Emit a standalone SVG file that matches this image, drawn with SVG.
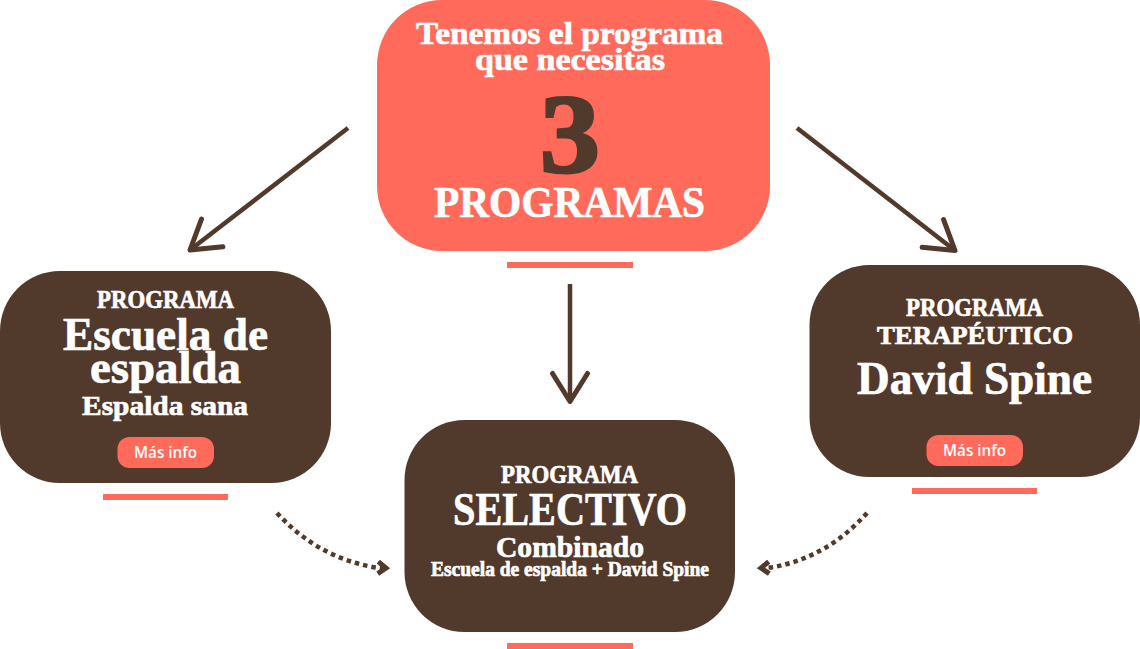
<svg xmlns="http://www.w3.org/2000/svg" width="1140" height="649" viewBox="0 0 1140 649">
<style>
.t{font-family:"Liberation Serif","Times New Roman",serif;font-weight:700;fill:#fff;stroke:#fff;stroke-width:.7px;text-anchor:middle}
.n{fill:#51392c;stroke:#51392c;stroke-width:3px}
.b{font-family:"Open Sans","Noto Sans",sans-serif;font-weight:600;font-size:15.500px;fill:#fff;text-anchor:middle}
.dk{fill:#51392c}.co{fill:#ff6a5b}
.ln{fill:none;stroke:#51392c;stroke-width:4.500}
.dot{fill:none;stroke:#51392c;stroke-width:4.500;stroke-dasharray:4.500 4}
</style>
<defs>
<marker id="ah" markerUnits="userSpaceOnUse" markerWidth="44" markerHeight="48" refX="36" refY="24" orient="auto" viewBox="0 0 44 48"><path d="M8,6.500 L36,24 L8,41.500" fill="none" stroke="#51392c" stroke-width="5" stroke-linecap="round" stroke-linejoin="round"/></marker>
<marker id="ch" markerUnits="userSpaceOnUse" markerWidth="18" markerHeight="22" refX="12" refY="11" orient="auto" viewBox="0 0 18 22"><path d="M4,5 L12,11 L4,17" fill="none" stroke="#51392c" stroke-width="5"/></marker>
</defs>
<g id="connectors">
<path class="ln" d="M348,128 L190,250" marker-end="url(#ah)"/>
<path class="ln" d="M797,128 L955,250.500" marker-end="url(#ah)"/>
<path class="ln" d="M570,284 L570,401.500" marker-end="url(#ah)"/>
<path class="dot" d="M277,513 Q318,558 376,567.500 L386,568" marker-end="url(#ch)"/>
<path class="dot" d="M867,513 Q827,558 771,567.500 L761,568" marker-end="url(#ch)"/>
</g>
<g id="node-top">
<rect class="co" x="377" y="0" width="393" height="251" rx="65"/>
<rect class="co" x="507" y="262" width="126" height="6"/>
<text class="t" x="569.500" y="44" font-size="32" textLength="307" lengthAdjust="spacingAndGlyphs">Tenemos el programa</text>
<text class="t" x="570" y="70" font-size="32" textLength="190" lengthAdjust="spacingAndGlyphs">que necesitas</text>
<text class="t n" x="570" y="171.500" font-size="112" textLength="60" lengthAdjust="spacingAndGlyphs">3</text>
<text class="t" x="569.500" y="217" font-size="45" textLength="271" lengthAdjust="spacingAndGlyphs">PROGRAMAS</text>
</g>
<g id="node-left">
<rect class="dk" x="0" y="271" width="331" height="212" rx="60"/>
<rect class="co" x="103" y="494" width="125" height="6"/>
<text class="t" x="165.500" y="308" font-size="25" textLength="137" lengthAdjust="spacingAndGlyphs">PROGRAMA</text>
<text class="t" x="165.500" y="350" font-size="46" textLength="205" lengthAdjust="spacingAndGlyphs">Escuela de</text>
<text class="t" x="165.500" y="383" font-size="46" textLength="151" lengthAdjust="spacingAndGlyphs">espalda</text>
<text class="t" x="165" y="415" font-size="28" textLength="166" lengthAdjust="spacingAndGlyphs">Espalda sana</text>
<rect class="co" x="117.500" y="437" width="96.500" height="31" rx="12"/>
<text class="b" x="165.500" y="458" textLength="63" lengthAdjust="spacingAndGlyphs">Más info</text>
</g>
<g id="node-right">
<rect class="dk" x="809.500" y="265" width="330.500" height="212" rx="60"/>
<rect class="co" x="912" y="488" width="125" height="6"/>
<text class="t" x="974.500" y="316" font-size="25" textLength="137" lengthAdjust="spacingAndGlyphs">PROGRAMA</text>
<text class="t" x="975" y="344" font-size="25" textLength="196" lengthAdjust="spacingAndGlyphs">TERAPÉUTICO</text>
<text class="t" x="974.500" y="394" font-size="46" textLength="235" lengthAdjust="spacingAndGlyphs">David Spine</text>
<rect class="co" x="926.500" y="435" width="96.500" height="31" rx="12"/>
<text class="b" x="974.500" y="456" textLength="63" lengthAdjust="spacingAndGlyphs">Más info</text>
</g>
<g id="node-center">
<rect class="dk" x="404.500" y="420" width="330.500" height="212" rx="60"/>
<rect class="co" x="507" y="643" width="126" height="6"/>
<text class="t" x="569.500" y="483" font-size="25" textLength="137" lengthAdjust="spacingAndGlyphs">PROGRAMA</text>
<text class="t" x="570" y="525" font-size="46" textLength="234" lengthAdjust="spacingAndGlyphs">SELECTIVO</text>
<text class="t" x="570" y="557" font-size="29" textLength="148" lengthAdjust="spacingAndGlyphs">Combinado</text>
<text class="t" x="570" y="576" font-size="20" textLength="278" lengthAdjust="spacingAndGlyphs">Escuela de espalda + David Spine</text>
</g>
</svg>
